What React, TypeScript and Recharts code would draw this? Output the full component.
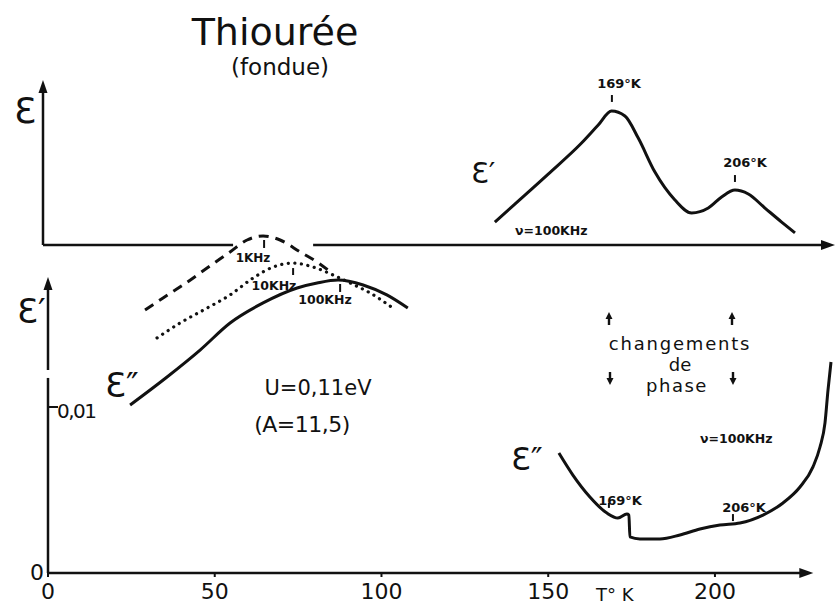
import { LineChart, Line, XAxis, YAxis, ReferenceLine, ReferenceDot } from 'recharts'

// échelle commune: 3.335 px par kelvin, T=0 à x=48
const INK = '#111'
const FONT = '"DejaVu Sans", sans-serif'

// --- panneau du haut: ε' à 100 kHz (unités arbitraires) ---
const epsPrimeT = [134, 140, 150, 160, 165, 169, 173, 177, 182, 188, 193, 198, 202, 206, 210, 215, 220, 224]
const epsPrimeV = [1.39, 2.48, 4.3, 6.18, 7.27, 8.12, 7.82, 6.48, 4.42, 2.73, 1.94, 2.24, 2.91, 3.33, 3.09, 2.24, 1.39, 0.73]

// --- panneau du bas: ε'' ---
const k1T = [29.1, 34.5, 40.5, 47.7, 54.6, 59.7, 64.5, 69.6, 75.6, 80.7, 84.0]
const k1V = [0.01584, 0.01657, 0.01735, 0.01837, 0.01934, 0.02006, 0.0203, 0.02006, 0.01934, 0.01873, 0.01825]

const k10T = [32.7, 39.6, 47.7, 54.6, 61.5, 67.5, 73.5, 79.5, 85.5, 90.6, 96.6, 103.4]
const k10V = [0.01416, 0.01506, 0.01596, 0.01675, 0.01777, 0.01843, 0.01867, 0.01843, 0.01795, 0.01747, 0.01687, 0.01596]

const k100T = [24.6, 35.7, 45.6, 54.6, 64.5, 74.7, 80.7, 87.0, 94.5, 101.6, 107.9]
const k100V = [0.01012, 0.01181, 0.01343, 0.01506, 0.01627, 0.01717, 0.01747, 0.01765, 0.01735, 0.01675, 0.01596]

const lossT = [153.2, 157.4, 162.5, 167.6, 170.9, 173.6, 174.2, 174.5, 177.5, 183.5, 189.5, 195.5, 201.5, 207.5, 214.4, 220.4, 225.5, 229.4, 231.5, 233.0, 233.9, 234.8]
const lossV = [0.00723, 0.0059, 0.00458, 0.00361, 0.00331, 0.00355, 0.00349, 0.00217, 0.00205, 0.00205, 0.00229, 0.00265, 0.00289, 0.00301, 0.00349, 0.00422, 0.00518, 0.00639, 0.00759, 0.00904, 0.01102, 0.01271]

const xTicks = [0, 50, 100, 150, 200]

const zip = (t: number[], v: number[]) => t.map((x, i) => ({ t: x, v: v[i] }))

const arrowUp = (p: any) => (
  <path d={`M${p.cx},${p.cy} L${p.cx - 4.5},${p.cy + 13} L${p.cx + 4.5},${p.cy + 13} Z`} fill={INK} />
)
const arrowRight = (p: any) => (
  <path d={`M${p.cx},${p.cy} L${p.cx - 14},${p.cy - 5} L${p.cx - 14},${p.cy + 5} Z`} fill={INK} />
)

const axisLine = { stroke: INK, strokeWidth: 2.5, ifOverflow: 'visible' as const }
const tick = { stroke: INK, strokeWidth: 2, ifOverflow: 'visible' as const }

function TopPanel() {
  return (
    <LineChart width={836} height={250} margin={{ top: 80, right: 1, left: 48, bottom: 5 }}>
      <XAxis type="number" dataKey="t" domain={[0, 236]} hide />
      <YAxis type="number" domain={[0, 10]} hide />
      <ReferenceLine segment={[{ x: -1.5, y: 0 }, { x: -1.5, y: 9.5 }]} {...axisLine} />
      <ReferenceDot x={-1.5} y={10} r={0} ifOverflow="visible" shape={arrowUp} />
      <ReferenceLine segment={[{ x: -1.5, y: 0 }, { x: 55.5, y: 0 }]} {...axisLine} />
      <ReferenceLine segment={[{ x: 79.5, y: 0 }, { x: 233, y: 0 }]} {...axisLine} />
      <ReferenceDot x={236} y={0} r={0} ifOverflow="visible" shape={arrowRight} />
      <ReferenceLine segment={[{ x: 169.1, y: 8.67 }, { x: 169.1, y: 9.09 }]} {...tick} />
      <ReferenceLine segment={[{ x: 206, y: 3.82 }, { x: 206, y: 4.24 }]} {...tick} />
      <Line
        data={zip(epsPrimeT, epsPrimeV)}
        dataKey="v"
        type="monotone"
        stroke={INK}
        strokeWidth={3}
        dot={false}
        isAnimationActive={false}
      />
    </LineChart>
  )
}

function BottomPanel() {
  return (
    <LineChart width={836} height={406} margin={{ top: 24.4, right: 1, left: 48, bottom: 0 }}>
      <XAxis
        type="number"
        dataKey="t"
        domain={[0, 236]}
        ticks={xTicks}
        height={33}
        axisLine={false}
        tickSize={4}
        tickMargin={6}
        tickLine={{ stroke: INK, strokeWidth: 2 }}
        tick={{ fill: INK, fontSize: 22, fontFamily: FONT }}
      />
      <YAxis type="number" domain={[0, 0.021]} hide />
      <ReferenceLine segment={[{ x: 0, y: 0 }, { x: 0, y: 0.01175 }]} {...axisLine} />
      <ReferenceLine segment={[{ x: 0, y: 0.01223 }, { x: 0, y: 0.0172 }]} {...axisLine} />
      <ReferenceDot x={0} y={0.01783} r={0} ifOverflow="visible" shape={arrowUp} />
      <ReferenceLine segment={[{ x: 0, y: 0.01 }, { x: 3, y: 0.01 }]} {...tick} />
      <ReferenceLine segment={[{ x: 0, y: 0 }, { x: 226, y: 0 }]} {...axisLine} />
      <ReferenceDot x={229.5} y={0} r={0} ifOverflow="visible" shape={arrowRight} />

      {/* repères de fréquence */}
      <ReferenceLine segment={[{ x: 64.8, y: 0.01958 }, { x: 64.8, y: 0.02006 }]} {...tick} />
      <ReferenceLine segment={[{ x: 73.5, y: 0.01795 }, { x: 73.5, y: 0.01837 }]} {...tick} />
      <ReferenceLine segment={[{ x: 87.6, y: 0.01693 }, { x: 87.6, y: 0.01741 }]} {...tick} />
      {/* changements de phase */}
      <ReferenceLine segment={[{ x: 168.2, y: 0.00392 }, { x: 168.2, y: 0.00422 }]} {...tick} />
      <ReferenceLine segment={[{ x: 205.4, y: 0.00313 }, { x: 205.4, y: 0.00355 }]} {...tick} />

      <Line data={zip(k1T, k1V)} dataKey="v" type="monotone" stroke={INK} strokeWidth={3}
        strokeDasharray="10 7" dot={false} isAnimationActive={false} />
      <Line data={zip(k10T, k10V)} dataKey="v" type="monotone" stroke={INK} strokeWidth={3.2}
        strokeDasharray="0.1 6.5" strokeLinecap="round" dot={false} isAnimationActive={false} />
      <Line data={zip(k100T, k100V)} dataKey="v" type="monotone" stroke={INK} strokeWidth={3}
        dot={false} isAnimationActive={false} />
      <Line data={zip(lossT, lossV)} dataKey="v" type="monotone" stroke={INK} strokeWidth={3}
        dot={false} isAnimationActive={false} />
    </LineChart>
  )
}

function Labels() {
  const t = (x: number, y: number, s: string, size: number, opts: any = {}) => (
    <text x={x} y={y} fontSize={size} fontFamily={FONT} fill={INK} {...opts}>{s}</text>
  )
  const b = { fontWeight: 'bold' }
  const mid = { textAnchor: 'middle' }
  const up = (x: number, y: number) => <path d={`M${x},${y} l-3.5,7 l2.3,0 l0,6 l2.4,0 l0,-6 l2.3,0 z`} fill={INK} />
  const down = (x: number, y: number) => <path d={`M${x},${y} l-3.5,-7 l2.3,0 l0,-6 l2.4,0 l0,6 l2.3,0 z`} fill={INK} />
  return (
    <svg width={836} height={606} style={{ position: 'absolute', left: 0, top: 0, pointerEvents: 'none' }}>
      {t(275, 45, 'Thiourée', 38, mid)}
      {t(280, 75, '(fondue)', 23, mid)}

      {t(14, 123, 'Ɛ', 36)}
      {t(471, 183, 'Ɛ\u2032', 29)}
      {t(515, 235, 'ν=100KHz', 12.5, b)}
      {t(619, 88, '169°K', 13, { ...b, textAnchor: 'middle' })}
      {t(745, 167, '206°K', 13, { ...b, textAnchor: 'middle' })}

      {t(17, 323, 'Ɛ\u2032', 34)}
      {t(105, 397, 'Ɛ\u2033', 34)}
      {t(57, 418, '0,01', 20, { letterSpacing: -1.5 })}
      {t(44, 580, '0', 22, { textAnchor: 'end' })}
      {t(596, 601, 'T° K', 18)}

      {t(253, 262, '1KHz', 12, { ...b, textAnchor: 'middle' })}
      {t(274, 290, '10KHz', 12.5, { ...b, textAnchor: 'middle' })}
      {t(325, 304, '100KHz', 12.5, { ...b, textAnchor: 'middle' })}

      {t(318, 395, 'U=0,11eV', 21, mid)}
      {t(302, 432, '(A=11,5)', 22, { textAnchor: 'middle', letterSpacing: -0.5 })}

      {t(680, 350, 'changements', 18, { textAnchor: 'middle', letterSpacing: 1.8 })}
      {t(680, 371, 'de', 18, mid)}
      {t(677, 392, 'phase', 18, { textAnchor: 'middle', letterSpacing: 1.5 })}
      {up(609, 312)}
      {up(732, 312)}
      {down(610, 385)}
      {down(733, 385)}

      {t(511, 470, 'Ɛ\u2033', 32)}
      {t(700, 443, 'ν=100KHz', 12.5, b)}
      {t(620, 505, '169°K', 13, { ...b, textAnchor: 'middle' })}
      {t(744, 512, '206°K', 13, { ...b, textAnchor: 'middle' })}
    </svg>
  )
}

export default function App() {
  return (
    <div style={{ position: 'absolute', left: 0, top: 0, width: 836, height: 606, background: '#fff', overflow: 'hidden' }}>
      <div style={{ position: 'absolute', left: 0, top: 0 }}>
        <TopPanel />
      </div>
      <div style={{ position: 'absolute', left: 0, top: 200 }}>
        <BottomPanel />
      </div>
      <Labels />
    </div>
  )
}
